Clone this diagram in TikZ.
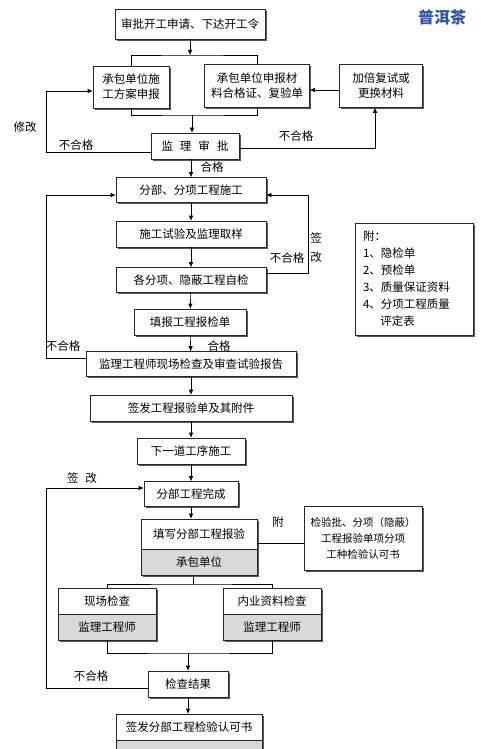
\documentclass[tikz,border=0pt]{standalone}
\usepackage{fontspec}
\setmainfont{Noto Sans CJK SC}
\usetikzlibrary{arrows.meta,shadows}

\definecolor{cellgray}{RGB}{217,217,217}
\definecolor{markblue}{RGB}{45,85,160}

\tikzset{
    stepbox/.style={rectangle, draw=black!85, line width=0.6pt, fill=white, inner sep=2pt,
        minimum height=25pt, align=center,
        drop shadow={shadow xshift=1.6pt, shadow yshift=-1.6pt, fill=black!65, opacity=1}},
    graybox/.style={stepbox, fill=cellgray},
    flow/.style={-{Latex[length=5pt,width=4.5pt]}, line width=0.6pt},
    link/.style={line width=0.6pt},
}

\begin{document}
\begin{tikzpicture}[x=1pt, y=-1pt, font=\fontsize{11.5}{15}\selectfont]
    \useasboundingbox (0,0) rectangle (481,749);

    \node (mark) [text=markblue, font=\fontsize{16}{16}\selectfont\bfseries] at (442,17) {普洱茶};

    \node (start) [stepbox, minimum width=150pt, minimum height=30pt] at (190,24) {审批开工申请、下达开工令};
    \node (plan) [stepbox, minimum width=76pt, minimum height=42pt] at (131,87) {承包单位施\\工方案申报};
    \node (mat) [stepbox, minimum width=105pt, minimum height=43pt] at (257,86) {承包单位申报材\\料合格证、复验单};
    \node (redo) [stepbox, minimum width=83pt, minimum height=43pt] at (381,86) {加倍复试或\\更换材料};
    \node (approve) [stepbox, minimum width=88pt, minimum height=26pt] at (195,146) {监\hspace{7pt}理\hspace{7pt}审\hspace{7pt}批};
    \node (sub) [stepbox, minimum width=150pt] at (191,190) {分部、分项工程施工};
    \node (test) [stepbox, minimum width=150pt, minimum height=26pt] at (191,234) {施工试验及监理取样};
    \node (self) [stepbox, minimum width=150pt] at (191,280) {各分项、隐蔽工程自检};
    \node (fill) [stepbox, minimum width=112pt, minimum height=26pt] at (190,322) {填报工程报检单};
    \node (check) [stepbox, minimum width=210pt] at (191,364) {监理工程师现场检查及审查试验报告};
    \node (sign) [stepbox, minimum width=202pt, minimum height=26pt] at (191,408) {签发工程报验单及其附件};
    \node (next) [stepbox, minimum width=108pt, minimum height=26pt] at (191,451) {下一道工序施工};
    \node (done) [stepbox, minimum width=94pt] at (191,494) {分部工程完成};
    \node (reportA) [stepbox, minimum width=116pt, minimum height=30pt] at (199,534) {填写分部工程报验};
    \node (reportB) [graybox, minimum width=116pt, minimum height=26pt] at (199,562) {承包单位};
    \node (attach) [stepbox, minimum width=118pt, minimum height=64pt, font=\fontsize{10.5}{16}\selectfont] at (363,538) {检验批、分项（隐蔽）\\工程报验单项分项\\工种检验认可书};
    \node (siteA) [stepbox, minimum width=98pt, minimum height=26pt] at (107,601) {现场检查};
    \node (siteB) [graybox, minimum width=98pt, minimum height=26pt] at (107,627) {监理工程师};
    \node (docsA) [stepbox, minimum width=98pt, minimum height=26pt] at (272,601) {内业资料检查};
    \node (docsB) [graybox, minimum width=98pt, minimum height=26pt] at (272,627) {监理工程师};
    \node (result) [stepbox, minimum width=80pt, minimum height=26pt] at (188,684) {检查结果};
    \node (certA) [stepbox, minimum width=146pt, minimum height=26pt] at (189,727) {签发分部工程检验认可书};
    \node (certB) [graybox, minimum width=146pt, minimum height=26pt] at (189,753) {};
    \node (note) [stepbox, minimum width=118pt, minimum height=112pt, align=left, text width=102pt,
        inner xsep=8pt, font=\fontsize{11.5}{17}\selectfont] at (414,279)
        {附：\\1、隐检单\\2、预检单\\3、质量保证资料\\4、分项工程质量\\\hspace*{1.5em}评定表};

    \node (fix) at (25,127) {修改};
    \node (failA) at (76,145) {不合格};
    \node (failB) at (296,136) {不合格};
    \node (passA) at (212,167) {合格};
    \node (revA) [font=\fontsize{11.5}{19}\selectfont, align=center] at (316,248) {签\\改};
    \node (failC) at (287,258) {不合格};
    \node (failD) at (63,346) {不合格};
    \node (passB) at (219,346) {合格};
    \node (revB) at (82,478) {签\hspace{7pt}改};
    \node (attnote) at (278,522) {附};
    \node (failE) at (91,676) {不合格};

    \coordinate (split) at (190,55);
    \coordinate (merge) at (192,115);
    \coordinate (lloop) at (46,152);
    \coordinate (rloop) at (375,148);
    \coordinate (sloop) at (308,273);
    \coordinate (cloop) at (46,358);
    \coordinate (fork) at (193,584);
    \coordinate (join) at (188,653);
    \coordinate (bloop) at (46,688);

    \draw[flow] (start.south) -- (split);
    \draw[link] (plan.north) |- (split) -| (mat.north);
    \draw[link] (plan.south) |- (merge) -| (mat.south);
    \draw[flow] (merge) -- (merge |- approve.north);
    \draw[flow] ([yshift=-4pt]redo.west) -- ([yshift=-4pt]mat.east);
    \draw[flow] ([yshift=-6pt]approve.west) -- (lloop) |- ([yshift=-4pt]plan.west);
    \draw[flow] ([yshift=-2pt]approve.east) -- (rloop) -- (rloop |- redo.south);
    \draw[flow] (approve.south -| sub.north) -- (sub.north);
    \draw[flow] (sub) -- (test);
    \draw[flow] (test) -- (self);
    \draw[flow] (self) -- (fill);
    \draw[flow] (fill) -- (check);
    \draw[flow] ([yshift=7pt]self.east) -- (sloop) |- ([yshift=-5pt]sub.east);
    \draw[flow] ([yshift=6pt]check.west) -- (cloop) |- ([yshift=-5pt]sub.west);
    \draw[flow] (check) -- (sign);
    \draw[flow] (sign) -- (next);
    \draw[flow] (next) -- (done);
    \draw[flow] (done.south) -- (done.south |- reportA.north);
    \draw[link] ([yshift=-9pt]reportA.east) -- ([yshift=-9pt]reportA.east -| attach.west);
    \draw[link] (reportB.south -| fork) -- (fork);
    \draw[link] (siteA.north) |- (fork) -| (docsA.north);
    \draw[link] (siteB.south) |- (join) -| (docsB.south);
    \draw[flow] (join) -- (join |- result.north);
    \draw[flow] ([yshift=-4pt]result.west) -- (bloop) |- ([yshift=6pt]done.west);
    \draw[flow] (result.south) -- (result.south |- certA.north);
\end{tikzpicture}
\end{document}
